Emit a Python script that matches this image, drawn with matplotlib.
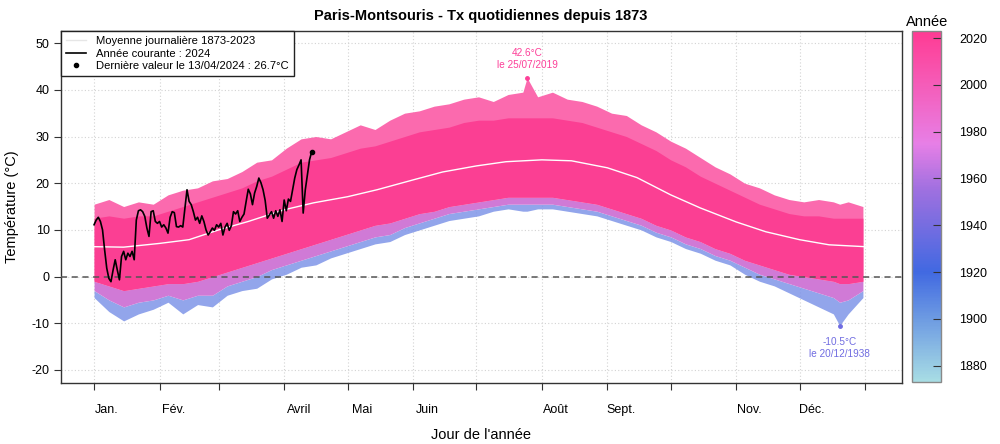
import matplotlib
matplotlib.use("Agg")
import matplotlib.pyplot as plt
import numpy as np
from matplotlib.colors import LinearSegmentedColormap, Normalize
from matplotlib.lines import Line2D
import matplotlib.cm as cm

plt.rcParams['font.family'] = ['Liberation Sans', 'DejaVu Sans']

# ---------------- data ----------------
month_ticks = [1, 32, 60, 91, 121, 152, 182, 213, 244, 274, 305, 335, 366]
month_label_days = [7, 38.5, 98, 128, 159, 219.5, 250.5, 311, 341]
month_labels = ["Jan.", "Fév.", "Avril", "Mai", "Juin", "Août", "Sept.", "Nov.", "Déc."]

# envelope of the 1873-2023 daily curves (°C)
env_days = [1, 8, 15, 22, 29, 36, 43, 50, 57, 64, 71, 78, 85, 92, 99, 106, 113, 120,
            127, 134, 141, 148, 155, 162, 169, 176, 183, 190, 197, 204, 206, 211, 218,
            225, 232, 239, 246, 253, 260, 267, 274, 281, 288, 295, 302, 309, 316, 323,
            330, 337, 344, 351, 354, 358, 365]
env_upper_max = [15.5, 16.5, 15.0, 16.0, 15.5, 17.5, 18.5, 19.0, 20.5, 21.0, 22.5, 24.5,
                 25.0, 27.5, 29.5, 30.0, 29.5, 31.0, 32.5, 31.5, 33.5, 35.0, 35.5, 36.5,
                 37.0, 38.0, 38.5, 37.5, 39.0, 39.5, 42.6, 38.5, 39.5, 38.0, 37.5, 36.5,
                 35.0, 34.5, 32.5, 31.0, 29.0, 27.5, 25.5, 23.5, 22.0, 20.0, 19.0, 17.5,
                 16.5, 16.0, 16.5, 16.0, 15.5, 16.0, 15.0]
env_upper_core = [12.5, 13.0, 12.5, 13.0, 13.0, 14.0, 15.0, 16.0, 17.0, 18.0, 19.0, 20.5,
                  21.5, 23.0, 24.5, 25.0, 25.5, 26.5, 27.5, 28.0, 29.0, 30.0, 31.0, 31.5,
                  32.0, 33.0, 33.5, 33.5, 34.0, 34.0, 34.0, 34.0, 34.0, 33.5, 33.0, 32.0,
                  31.0, 30.0, 28.5, 27.0, 25.0, 23.5, 21.5, 20.0, 18.5, 17.0, 15.5, 14.5,
                  13.5, 13.0, 13.0, 12.5, 12.5, 12.5, 12.5]
env_lower_core = [-1.0, -2.0, -3.0, -2.5, -2.0, -1.5, -1.5, -1.0, 0.0, 1.0, 2.0, 3.0, 4.0,
                  5.0, 6.0, 7.0, 8.0, 9.0, 10.0, 11.0, 11.5, 12.5, 13.5, 14.0, 15.0,
                  15.5, 16.0, 16.5, 17.0, 17.0, 17.0, 17.0, 17.0, 16.5, 16.0, 15.5, 14.5,
                  13.5, 12.5, 11.0, 10.0, 8.5, 7.5, 6.0, 5.0, 3.5, 2.5, 1.5, 0.5, 0.0,
                  -0.5, -1.0, -1.5, -1.5, -1.0]
env_lower_mix = [-3.0, -5.0, -6.5, -5.5, -5.0, -4.0, -5.0, -4.0, -4.0, -2.0, -1.0, 0.0,
                 1.5, 2.5, 3.5, 4.5, 5.5, 6.5, 7.5, 8.5, 9.0, 10.5, 11.5, 12.5, 13.5,
                 14.0, 14.5, 15.0, 15.5, 15.5, 15.5, 15.5, 15.5, 15.0, 14.5, 14.0, 13.0,
                 12.0, 11.0, 9.5, 8.5, 7.0, 6.0, 4.5, 3.5, 2.0, 0.5, -0.5, -1.5, -2.5,
                 -3.5, -4.5, -5.5, -5.0, -3.0]
env_lower_min = [-4.5, -7.5, -9.5, -8.0, -7.0, -5.5, -8.0, -6.0, -6.5, -4.0, -3.0, -2.5,
                 -0.5, 0.5, 2.0, 2.5, 4.0, 5.0, 6.0, 7.0, 7.5, 9.0, 10.0, 11.0, 12.0,
                 12.5, 13.0, 14.0, 14.5, 14.0, 14.0, 14.5, 14.5, 14.0, 13.5, 13.0, 12.0,
                 11.0, 10.0, 8.5, 7.5, 6.0, 5.0, 3.5, 2.5, 0.5, -1.0, -2.0, -3.5, -5.0,
                 -6.5, -8.0, -10.5, -8.0, -4.5]

# daily mean 1873-2023
mean_days = [1, 15, 32, 46, 60, 74, 91, 105, 121, 135, 152, 166, 182, 196, 213, 227,
             244, 258, 274, 288, 305, 319, 335, 349, 366]
mean_vals = [6.4, 6.3, 7.1, 7.9, 10.0, 11.8, 14.3, 15.8, 17.1, 18.6, 20.7, 22.4, 23.7,
             24.6, 25.0, 24.8, 23.3, 21.2, 17.5, 14.7, 11.7, 9.6, 7.9, 6.8, 6.4]

# year 2024 (1 Jan -> 13 Apr)
cur_vals = [11.1, 12.1, 12.7, 11.8, 10.0, 5.7, 1.8, -0.4, -1.1, 1.4, 3.6, 1.4, -0.7,
            4.3, 5.4, 3.6, 5.0, 4.3, 5.4, 3.6, 12.1, 14.1, 14.3, 13.9, 12.9, 10.4, 8.6,
            13.9, 14.1, 11.8, 11.4, 11.8, 10.6, 11.1, 10.4, 9.3, 12.7, 13.9, 13.7, 10.7,
            10.6, 10.9, 10.6, 14.6, 18.6, 16.1, 15.4, 13.9, 12.1, 12.7, 11.4, 13.0, 11.8,
            10.0, 8.9, 9.6, 10.4, 9.9, 11.1, 10.6, 11.4, 8.9, 10.6, 11.4, 9.9, 10.9,
            13.9, 13.4, 14.1, 11.8, 12.7, 13.4, 16.1, 18.7, 17.7, 15.4, 17.9, 19.3, 21.1,
            20.1, 18.6, 16.3, 12.5, 13.2, 13.9, 12.5, 14.1, 12.9, 14.3, 11.8, 16.4, 14.1,
            16.6, 16.1, 18.6, 21.1, 22.9, 23.9, 25.0, 13.6, 18.6, 21.8, 25.0, 26.7]

record_max = (206, 42.6, 2019, "42.6°C\nle 25/07/2019")
record_min = (354, -10.5, 1938, "-10.5°C\nle 20/12/1938")
year_first, year_last = 1873, 2023
cbar_ticks = [1880, 1900, 1920, 1940, 1960, 1980, 2000, 2020]
y_ticks = [-20, -10, 0, 10, 20, 30, 40, 50]

# ---------------- figure ----------------
W, H = 1000, 444
fig = plt.figure(figsize=(W / 100, H / 100), dpi=100)
ax = fig.add_axes([60.7 / W, 1 - 383 / H, (902 - 60.7) / W, (383 - 31) / H])

cmap = LinearSegmentedColormap.from_list(
    "annee",
    [(0.0, "#a8dde4"), (0.313, "#4169e1"), (0.55, "#a070e0"),
     (0.68, "#e77fe6"), (0.85, "#f55cb8"), (1.0, "#ff3b93")])
norm = Normalize(year_first, year_last)

ax.set_xlim(-14.8, 383.5)
ax.set_ylim(-22.8, 52.6)

# grid
for yv in y_ticks:
    ax.axhline(yv, color="#d3d3d3", lw=0.8, ls=(0, (1, 2)), zorder=0)
for xv in month_ticks:
    ax.axvline(xv, color="#d3d3d3", lw=0.8, ls=(0, (1, 2)), zorder=0)

# envelope bands
d = np.array(env_days)
ax.fill_between(d, env_lower_min, env_lower_mix, color="#7f95e8", lw=0, alpha=0.85, zorder=1)
ax.fill_between(d, env_lower_mix, env_lower_core, color="#d07ad6", lw=0, zorder=1)
ax.fill_between(d, env_lower_core, env_upper_max, color="#fb6aae", lw=0, zorder=2)
ax.fill_between(d, env_lower_core, env_upper_core, color="#fb3f93", lw=0, zorder=3)

# zero line
ax.axhline(0, color="#555555", lw=1.1, ls=(0, (4, 3)), zorder=4)

# mean
ax.plot(mean_days, mean_vals, color="white", lw=1.0, zorder=5)

# 2024
cur_days = np.arange(1, len(cur_vals) + 1)
ax.plot(cur_days, cur_vals, color="black", lw=1.2, zorder=6)
ax.plot(cur_days[-1], cur_vals[-1], "o", color="black", ms=3, zorder=7)

# records
cmax = cmap(norm(record_max[2]))
cmin = cmap(norm(record_min[2]))
ax.plot(record_max[0], record_max[1], "o", color=cmax, ms=2.5, zorder=7)
ax.text(record_max[0], 46.6, record_max[3], color=cmax, fontsize=7.2, ha="center",
        va="center", linespacing=1.2, zorder=8)
ax.plot(record_min[0], record_min[1], "o", color=cmin, ms=2.5, zorder=7)
ax.text(record_min[0], -15.3, record_min[3], color=cmin, fontsize=7.2, ha="center",
        va="center", linespacing=1.2, zorder=8)

# axes styling
for s in ax.spines.values():
    s.set_color("#333333")
    s.set_linewidth(1.0)
ax.set_yticks(y_ticks)
ax.set_yticklabels([str(v) for v in y_ticks])
ax.tick_params(axis="y", length=5, width=0.8, color="#333333", labelsize=9, pad=3)
ax.set_xticks(month_ticks)
ax.set_xticklabels([""] * len(month_ticks))
ax.tick_params(axis="x", which="major", length=5, width=0.8, color="#333333")
ax.set_xticks(month_label_days, minor=True)
ax.set_xticklabels(month_labels, minor=True)
ax.tick_params(axis="x", which="minor", length=0, labelsize=9, pad=15)

fig.text(481 / W, 1 - 16 / H, "Paris-Montsouris - Tx quotidiennes depuis 1873",
         ha="center", va="center", fontsize=10.5, fontweight="bold")
fig.text(481 / W, 1 - 435 / H, "Jour de l'année", ha="center", va="center", fontsize=10.5)
fig.text(12 / W, 1 - 207 / H, "Température (°C)", ha="center", va="center",
         fontsize=10.5, rotation=90)

# legend
handles = [Line2D([], [], color="#e6e6e6", lw=1.0),
           Line2D([], [], color="black", lw=1.2),
           Line2D([], [], color="black", marker="o", ls="none", ms=3)]
labels = ["Moyenne journalière 1873-2023", "Année courante : 2024",
          "Dernière valeur le 13/04/2024 : 26.7°C"]
leg = ax.legend(handles, labels, loc="upper left", bbox_to_anchor=(0, 1),
                borderaxespad=0, fancybox=False, framealpha=1, edgecolor="#222222",
                fontsize=8.1, handlelength=1.8, handletextpad=0.9, labelspacing=0.22,
                borderpad=0.45)
leg.get_frame().set_linewidth(1.0)
leg.set_zorder(10)

# colorbar
cax = fig.add_axes([912 / W, 1 - 382 / H, 29 / W, (382 - 31) / H])
cb = fig.colorbar(cm.ScalarMappable(norm=norm, cmap=cmap), cax=cax)
cb.set_ticks(cbar_ticks)
cb.outline.set_edgecolor("#888888")
cb.outline.set_linewidth(1.0)
cax.tick_params(direction="in", length=6, width=0.8, color="#333333",
                labelsize=9, pad=13)
fig.text(927 / W, 1 - 22 / H, "Année", ha="center", va="center", fontsize=10.5)

fig.savefig("out.png", dpi=100)
